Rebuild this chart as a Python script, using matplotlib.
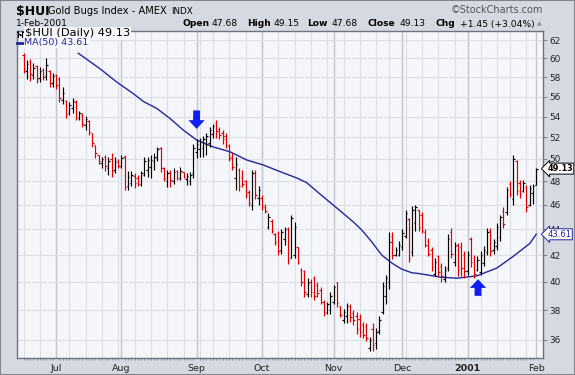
import numpy as np
import pandas as pd
import matplotlib
matplotlib.use('Agg')
import matplotlib.pyplot as plt
from matplotlib.collections import LineCollection
from matplotlib.lines import Line2D
from matplotlib.patches import Rectangle
from matplotlib.ticker import NullLocator

# daily bars, $HUI 19-Jun-2000 .. 1-Feb-2001
opens = [60.4, 58.7, 59.6, 58.2, 59.2, 57.9, 58.8, 58.1, 58.7, 57.4,
         58.2, 57.8, 55.6, 55.5, 54.3, 54.8, 55.4, 53.9, 54.2, 53.2,
         53.6, 52.4, 51.3, 50.4, 49.6, 50.2, 49.2, 50.0, 49.0, 49.8,
         49.4, 50.2, 47.6, 47.9, 48.5, 48.3, 47.8, 48.6, 49.0, 49.3,
         49.8, 50.1, 51.0, 49.2, 48.0, 48.8, 48.0, 48.9, 48.3, 48.8,
         48.2, 48.0, 48.7, 50.6, 50.9, 51.0, 51.4, 51.5, 52.3, 53.4,
         52.8, 52.4, 52.1, 51.2, 50.3, 48.3, 49.0, 48.4, 48.0, 47.1,
         46.0, 48.7, 46.6, 46.6, 45.8, 44.2, 44.7, 43.6, 43.7, 42.4,
         43.2, 44.0, 41.8, 42.0, 42.6, 40.9, 40.8, 39.1, 40.0, 40.3,
         39.8, 39.4, 38.6, 37.9, 38.0, 38.6, 40.0, 38.3, 37.3, 37.6,
         38.3, 37.8, 37.6, 37.4, 37.0, 36.9, 35.5, 36.7, 35.8, 36.6,
         37.9, 39.0, 40.0, 43.5, 42.0, 42.0, 42.6, 43.5, 44.8, 42.2,
         44.5, 45.6, 45.2, 43.8, 43.1, 42.4, 40.6, 41.9, 41.2, 40.2,
         41.0, 43.8, 41.5, 42.8, 42.6, 42.0, 40.8, 43.2, 41.8, 40.9,
         40.7, 41.4, 42.2, 43.9, 42.4, 42.7, 43.4, 45.5, 45.4, 47.8,
         46.5, 49.8, 47.9, 47.2, 47.5, 46.0, 47.0, 47.68]
highs = [60.6, 59.8, 59.9, 59.5, 59.3, 59.1, 59.0, 60.0, 58.8, 58.4,
         58.3, 58.0, 57.0, 55.6, 55.4, 55.8, 55.6, 54.5, 54.3, 54.1,
         53.7, 52.4, 51.3, 50.4, 50.2, 50.4, 50.2, 50.5, 50.2, 50.0,
         50.4, 50.4, 48.9, 48.9, 48.7, 48.6, 48.9, 50.2, 50.2, 50.4,
         50.5, 51.1, 51.1, 49.3, 49.0, 49.0, 49.2, 49.0, 49.3, 48.85,
         48.7, 48.85, 51.4, 51.8, 51.9, 52.1, 52.4, 53.0, 53.3, 53.7,
         53.0, 52.7, 52.4, 51.4, 50.5, 50.2, 49.2, 49.0, 48.1, 47.3,
         49.0, 49.0, 47.6, 46.8, 46.1, 45.3, 44.8, 43.7, 43.9, 44.0,
         44.2, 44.2, 45.2, 44.6, 42.6, 41.0, 40.9, 40.3, 40.2, 40.4,
         40.0, 39.6, 38.7, 38.6, 39.3, 39.8, 40.0, 38.3, 38.1, 38.5,
         38.4, 38.0, 37.85, 37.75, 37.2, 37.1, 36.2, 37.1, 36.8, 37.6,
         40.0, 40.5, 43.8, 43.8, 42.6, 43.1, 44.0, 45.6, 44.9, 45.9,
         46.0, 45.6, 45.4, 44.0, 43.3, 42.6, 41.8, 42.0, 41.4, 41.2,
         43.6, 44.1, 43.0, 42.9, 43.0, 42.3, 42.3, 43.4, 42.0, 41.9,
         42.3, 42.7, 44.1, 44.1, 43.2, 44.5, 45.2, 45.8, 47.55, 48.0,
         50.4, 49.9, 48.1, 48.1, 47.7, 47.7, 47.8, 49.15]
lows = [58.4, 57.8, 57.6, 57.8, 57.4, 57.5, 57.7, 57.7, 57.0, 57.0,
        56.8, 55.4, 55.2, 53.9, 54.2, 54.3, 53.7, 53.7, 53.0, 52.7,
        52.2, 51.1, 50.1, 49.5, 49.2, 48.9, 48.6, 48.4, 48.7, 49.2,
        49.2, 47.3, 47.3, 47.6, 47.4, 47.6, 47.6, 48.5, 48.4, 48.3,
        49.0, 49.8, 48.85, 48.0, 47.55, 47.55, 47.8, 48.1, 48.1, 48.3,
        47.7, 47.7, 48.3, 50.06, 50.2, 50.2, 50.4, 51.1, 51.9, 51.9,
        51.8, 51.4, 51.0, 49.8, 49.0, 47.3, 47.2, 47.5, 46.6, 45.9,
        45.6, 46.5, 46.0, 45.6, 45.3, 44.0, 43.7, 42.8, 42.0, 42.1,
        42.8, 41.3, 41.8, 41.8, 41.3, 39.7, 38.95, 38.95, 38.95, 38.7,
        38.95, 38.4, 37.6, 37.75, 37.75, 38.4, 38.2, 37.5, 37.1, 37.1,
        37.2, 37.0, 36.4, 36.2, 36.1, 35.9, 35.3, 35.3, 35.4, 36.4,
        37.75, 38.4, 39.5, 41.7, 41.9, 41.9, 42.4, 43.3, 41.5, 41.9,
        43.9, 43.9, 43.7, 42.6, 41.9, 40.8, 40.4, 40.4, 40.0, 40.0,
        40.8, 41.8, 41.2, 40.4, 40.4, 40.3, 40.5, 41.1, 40.3, 40.8,
        40.5, 41.2, 42.0, 41.9, 42.1, 42.4, 43.1, 44.1, 45.2, 46.7,
        46.0, 46.8, 46.6, 47.1, 45.4, 45.9, 46.1, 47.68]
closes = [58.9, 59.4, 58.3, 59.0, 57.8, 58.7, 58.0, 59.3, 57.4, 58.1,
          57.2, 55.8, 56.4, 54.2, 55.1, 55.5, 54.0, 54.3, 53.3, 53.8,
          52.5, 51.5, 50.5, 49.8, 50.0, 49.4, 49.8, 48.9, 49.7, 49.4,
          50.1, 47.5, 48.4, 48.6, 47.9, 47.8, 48.7, 49.8, 49.9, 49.9,
          50.2, 50.9, 49.2, 48.3, 48.7, 48.1, 48.8, 48.3, 48.9, 48.4,
          48.5, 48.6, 51.0, 51.4, 51.6, 51.8, 52.1, 52.7, 53.1, 52.6,
          52.2, 51.8, 51.3, 50.1, 49.3, 49.5, 47.6, 47.8, 46.9, 46.2,
          48.7, 46.8, 47.3, 45.9, 45.5, 45.0, 43.9, 43.0, 42.3, 43.8,
          44.0, 41.6, 44.9, 44.2, 41.5, 40.0, 39.3, 39.9, 39.3, 39.0,
          39.2, 38.6, 37.8, 38.4, 39.0, 39.6, 38.5, 37.7, 37.9, 38.3,
          37.5, 37.3, 36.7, 36.5, 36.3, 36.1, 36.0, 35.7, 36.5, 37.3,
          39.7, 40.3, 43.0, 42.0, 42.4, 42.8, 43.7, 45.3, 41.8, 45.6,
          45.8, 44.2, 43.9, 42.8, 42.1, 41.1, 41.5, 40.7, 40.4, 40.9,
          43.2, 42.1, 42.7, 40.9, 41.0, 40.8, 42.0, 41.5, 40.6, 41.6,
          42.0, 42.4, 43.8, 42.3, 43.0, 44.2, 45.0, 44.4, 47.3, 46.9,
          50.0, 47.2, 46.9, 47.9, 45.8, 47.4, 47.6, 49.13]

# 50-day moving average as drawn (bar position, value)
ma_idx = [16.8, 23.4, 28.5, 33.6, 36.7, 40.8, 44.9, 48.9, 53.0, 58.1, 63.2,
          68.4, 73.4, 78.6, 83.7, 86.7, 91.3, 95.9, 101.0, 103.6, 106.6,
          109.7, 112.8, 115.8, 118.9, 121.4, 127.6, 132.7, 138.8, 144.9,
          150.0, 155.1, 157]
ma_val = [60.57, 58.9, 57.5, 56.3, 55.5, 54.8, 53.8, 52.7, 51.75, 51.1, 50.66,
          49.9, 49.46, 48.86, 48.3, 47.9, 46.8, 45.75, 44.6, 43.95, 43.03,
          42.0, 41.39, 40.94, 40.67, 40.6, 40.35, 40.27, 40.44, 41.01,
          41.9, 42.9, 43.61]

month_labels = ['Jul', 'Aug', 'Sep', 'Oct', 'Nov', 'Dec', '2001', 'Feb']
y_ticks = [36, 38, 40, 42, 44, 46, 48, 50, 52, 54, 56, 58, 60, 62]
holidays = ['2000-07-04', '2000-09-04', '2000-11-23', '2000-12-25', '2001-01-01', '2001-01-15']

# blue signal arrows: bar index, tip price, tail price
arrow_x = [53, 139.2]
arrow_tip = [52.8, 40.2]
arrow_tail = [54.6, 39.0]

days = pd.bdate_range('2000-06-19', '2001-02-01')
days = days[~days.isin(pd.to_datetime(holidays))]
n = len(days)
assert n == len(opens) == len(highs) == len(lows) == len(closes)

month_start = [i for i in range(1, n) if days[i].month != days[i - 1].month]
week_start = [i for i in range(n) if i == 0 or days[i].weekday() < days[i - 1].weekday()]

W, H = 575, 375
plot_bg = '#f5f6fa'
ma_color = '#25259a'
fig = plt.figure(figsize=(W / 100, H / 100), dpi=100)
fig.patch.set_facecolor('#d5d9e2')
fig.patches.append(Rectangle((0, 0), 1, 1, transform=fig.transFigure, fill=False,
                             ec='#80858f', lw=1.5))


def fx(px):
    return px / W


def fy(py):
    return 1 - py / H


ax = fig.add_axes([fx(17), fy(358), (543 - 17) / W, (358 - 31) / H])
ax.set_facecolor(plot_bg)
ax.set_yscale('log')
ax.set_ylim(34.84, 63.07)
ax.set_xlim(-2.0, 159.1)

for i in week_start:
    ax.axvline(i, color='#dcdfe6', lw=0.8, zorder=0)
for i in month_start:
    ax.axvline(i, color='#c2c5cd', lw=1.0, zorder=0)
for v in y_ticks:
    ax.axhline(v, color='#dcdfe6', lw=0.8, zorder=0)

# OHLC bars
w = 0.45
segs, cols = [], []
for i in range(n):
    c = '#000000' if closes[i] >= opens[i] else '#e00000'
    segs += [[(i, lows[i]), (i, highs[i])],
             [(i - w, opens[i]), (i, opens[i])],
             [(i, closes[i]), (i + w, closes[i])]]
    cols += [c] * 3
ax.add_collection(LineCollection(segs, colors=cols, linewidths=0.85, zorder=3))

ax.plot(ma_idx, ma_val, color=ma_color, lw=1.0, zorder=2)

for xa, tip, tail in zip(arrow_x, arrow_tip, arrow_tail):
    ax.annotate('', xy=(xa, tip), xytext=(xa, tail),
                arrowprops=dict(arrowstyle='simple,head_length=0.7,head_width=1.3,tail_width=0.55',
                                fc='#1020f0', ec='none', mutation_scale=9, shrinkA=0, shrinkB=0),
                zorder=4)

# axes, ticks
for s in ax.spines.values():
    s.set_color('#6e737d')
    s.set_linewidth(1.0)
ax.yaxis.tick_right()
ax.yaxis.set_minor_locator(NullLocator())
ax.set_yticks(y_ticks)
ax.set_yticklabels([str(v) for v in y_ticks])
ax.tick_params(axis='y', which='both', direction='out', length=3, width=0.6, pad=1.5,
               labelsize=6.4, colors='#6e737d', labelcolor='#222222')
ax.set_xticks(month_start)
ax.set_xticklabels(month_labels)
ax.set_xticks(range(n), minor=True)
ax.tick_params(axis='x', which='major', length=0, pad=4, labelsize=6.8, labelcolor='#222222')
ax.tick_params(axis='x', which='minor', length=1.5, width=0.5, color='#6e737d')
for t in ax.get_xticklabels():
    if t.get_text() == '2001':
        t.set_fontweight('bold')

# value flags on the price axis
ax.annotate('%.2f' % closes[-1], xy=(1, closes[-1]), xycoords=('axes fraction', 'data'),
            xytext=(3, 0), textcoords='offset points', ha='left', va='center',
            fontsize=5.9, fontweight='bold', color='black', annotation_clip=False, zorder=6,
            bbox=dict(boxstyle='larrow,pad=0.12', fc='white', ec='black', lw=0.7))
ax.annotate('%.2f' % ma_val[-1], xy=(1, ma_val[-1]), xycoords=('axes fraction', 'data'),
            xytext=(3, 0), textcoords='offset points', ha='left', va='center',
            fontsize=6.1, color=ma_color, annotation_clip=False, zorder=6,
            bbox=dict(boxstyle='larrow,pad=0.12', fc='white', ec=ma_color, lw=0.7))

# header
fig.text(fx(16), fy(11), r'\$HUI', fontsize=9, fontweight='bold', va='center')
fig.text(fx(48), fy(11), 'Gold Bugs Index - AMEX', fontsize=7.1, va='center')
fig.text(fx(171), fy(11), 'INDX', fontsize=6.3, va='center')
fig.text(fx(543), fy(10), '\u00a9StockCharts.com', fontsize=7, color='#50555f', ha='right', va='center')
fig.text(fx(16), fy(24), '1-Feb-2001', fontsize=6.6, va='center')
header = [('Open', 182.5, 'bold'), ('47.68', 212, 'normal'), ('High', 247, 'bold'),
          ('49.15', 274, 'normal'), ('Low', 307, 'bold'), ('47.68', 332, 'normal'),
          ('Close', 367, 'bold'), ('49.13', 400, 'normal'), ('Chg', 435.5, 'bold'),
          ('+1.45 (+3.04%)', 460, 'normal')]
for txt, px, wt in header:
    fig.text(fx(px), fy(24), txt, fontsize=6.6, fontweight=wt, va='center')
fig.text(fx(537), fy(24), '\u25b2', fontsize=4.5, color='#8a929c', va='center')

# in-chart legend
fig.text(fx(25), fy(33.5), r'\$HUI (Daily) 49.13', fontsize=8.2, va='center', zorder=5,
         bbox=dict(boxstyle='square,pad=0.1', fc=plot_bg, ec='none'))
for bx, top, bot, o, c in [(18, 30.5, 36.5, 31.5, 33.5), (21.8, 31, 37, 34.5, 32)]:
    fig.add_artist(Line2D([fx(bx), fx(bx)], [fy(top), fy(bot)], color='black', lw=0.8))
    fig.add_artist(Line2D([fx(bx - 1.5), fx(bx)], [fy(o), fy(o)], color='black', lw=0.8))
    fig.add_artist(Line2D([fx(bx), fx(bx + 1.5)], [fy(c), fy(c)], color='black', lw=0.8))
fig.text(fx(24.5), fy(42.5), 'MA(50) 43.61', fontsize=6.8, color=ma_color, va='center', zorder=5,
         bbox=dict(boxstyle='square,pad=0.1', fc=plot_bg, ec='none'))
fig.add_artist(Line2D([fx(17), fx(23.5)], [fy(42.5), fy(42.5)], color=ma_color, lw=2))

fig.savefig('out.png', dpi=100, facecolor=fig.get_facecolor())
